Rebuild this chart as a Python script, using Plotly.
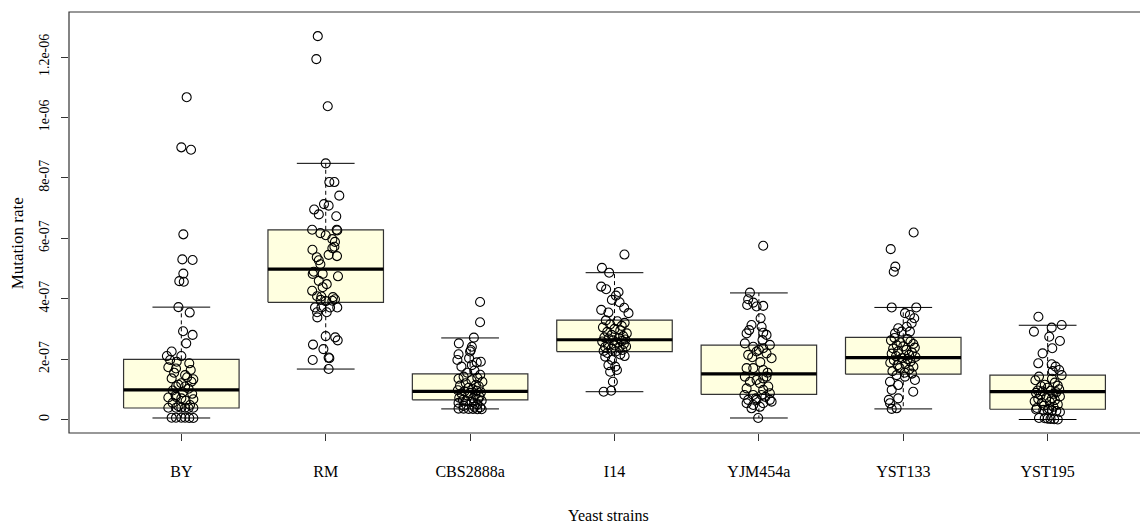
import plotly.graph_objects as go

# ---------------- data (mutation rate in units of 1e-07) ----------------
UNIT = 1e-7
strains = ["BY", "RM", "CBS2888a", "I14", "YJM454a", "YST133", "YST195"]

y_tick_vals = [0, 2e-07, 4e-07, 6e-07, 8e-07, 1e-06, 1.2e-06]
y_tick_text = ["0", "2e-07", "4e-07", "6e-07", "8e-07", "1e-06", "1.2e-06"]

# box statistics
whisker_low = [0.05, 1.67, 0.35, 0.92, 0.05, 0.35, 0.0]
q1 = [0.38, 3.88, 0.65, 2.25, 0.83, 1.50, 0.34]
median = [0.98, 4.98, 0.93, 2.64, 1.51, 2.05, 0.92]
q3 = [1.99, 6.28, 1.51, 3.29, 2.46, 2.72, 1.47]
whisker_high = [3.72, 8.48, 2.70, 4.86, 4.19, 3.71, 3.12]

# individual measurements and their horizontal jitter (category units)
by_vals = [10.67, 9.01, 8.93, 6.13, 5.30, 5.28, 4.83, 4.58, 4.56, 3.72, 3.54, 2.92, 2.80, 2.52,
           2.25, 2.10, 2.10, 1.97, 1.91, 1.86, 1.73, 1.69, 1.64, 1.47, 1.36, 1.33, 1.20, 1.09, 1.09,
           1.55, 1.40, 1.25, 1.15, 1.02, 0.96, 0.90, 0.85, 0.80,
           0.75, 0.73, 0.70, 0.67, 0.62, 0.55, 0.48, 0.44,
           0.39, 0.39, 0.39, 0.39, 0.39, 0.38,
           0.06, 0.06, 0.06, 0.06, 0.05, 0.05]
by_jit = [0.037, 0.0, 0.067, 0.014, 0.007, 0.078, 0.014, -0.014, 0.017, -0.02, 0.058, 0.012, 0.078, 0.034,
          -0.067, -0.10, 0.0, -0.078, -0.032, 0.055, -0.09, -0.037, 0.065, 0.026, -0.067, 0.083, 0.0, -0.037, 0.026,
          -0.05, 0.04, 0.07, -0.02, 0.05, -0.06, 0.01, 0.075, -0.04,
          -0.037, -0.09, 0.0, 0.083, 0.03, -0.06, 0.06, -0.02,
          -0.09, -0.037, 0.0, 0.026, 0.083, 0.05,
          -0.067, -0.037, 0.0, 0.026, 0.055, 0.083]

rm_vals = [12.69, 11.93, 10.37,
           8.48, 7.86, 7.86, 7.41, 7.13, 7.08, 6.95, 6.79, 6.73,
           6.28, 6.28, 6.26, 6.17, 6.10, 5.97, 5.88, 5.72, 5.67, 5.62,
           5.45, 5.41, 5.37, 5.27, 5.14, 4.89, 4.82, 4.82, 4.74, 4.59,
           4.48, 4.38, 4.26, 4.08, 4.07, 4.05, 3.96, 3.92, 3.93, 3.98,
           3.71, 3.71, 3.71, 3.71, 3.55, 3.55, 3.38,
           2.76, 2.72, 2.62, 2.48, 2.33, 1.97, 2.05, 2.03, 1.67]
rm_jit = [-0.055, -0.065, 0.014,
          0.0, 0.025, 0.06, 0.094, -0.012, 0.02, -0.08, -0.048, 0.073,
          -0.094, 0.076, 0.08, -0.037, 0.0, 0.046, 0.064, 0.06, 0.046, -0.092,
          0.02, 0.078, -0.062, -0.048, -0.037, -0.083, -0.021, -0.09, 0.085, -0.048,
          0.007, -0.021, -0.094, -0.06, -0.03, 0.05, -0.035, 0.0, 0.046, 0.064,
          -0.074, -0.03, 0.03, 0.08, -0.06, 0.007, -0.058,
          0.0, 0.066, 0.083, -0.088, -0.016, -0.09, 0.02, 0.025, 0.02]

cbs_vals = [3.89, 3.22, 2.71,
            2.52, 2.41, 2.30, 2.16, 2.25, 1.97, 2.03, 1.91, 1.89, 1.80,
            1.75, 1.62, 1.55, 1.48, 1.42, 1.38, 1.35, 1.30, 1.25, 1.20, 1.15, 1.12, 1.10, 1.05, 1.00,
            0.97, 0.95, 0.93, 0.90, 0.88, 0.86, 0.82, 0.78, 0.75, 0.72, 0.70, 0.68, 0.65,
            0.62, 0.60, 0.58, 0.55, 0.50, 0.45, 0.42, 0.40,
            0.36, 0.36, 0.35, 0.35, 0.34, 0.34]
cbs_jit = [0.069, 0.069, 0.026,
           -0.078, 0.012, 0.005, -0.08, 0.0, -0.088, -0.007, 0.074, 0.046, 0.012,
           -0.06, 0.03, -0.02, 0.07, -0.045, 0.05, -0.08, 0.01, 0.085, -0.03, 0.04, -0.07, 0.06, -0.01, 0.02,
           -0.085, 0.045, -0.04, 0.075, 0.0, -0.06, 0.035, -0.015, 0.065, -0.075, 0.02, 0.055, -0.05,
           0.08, -0.03, 0.01, -0.08, 0.05, -0.045, 0.03, 0.07,
           -0.08, -0.045, -0.01, 0.02, 0.05, 0.08]

i14_vals = [5.46, 5.02, 4.86, 4.40, 4.31, 4.22, 4.10, 3.96, 3.88, 3.70, 3.63, 3.54, 3.52,
            3.28, 3.25, 3.20, 3.15, 3.10, 3.05, 3.00, 2.95, 2.90, 2.85, 2.80, 2.76, 2.72, 2.70, 2.68, 2.65,
            2.62, 2.60, 2.58, 2.55, 2.50, 2.46, 2.45, 2.42, 2.40, 2.38, 2.34, 2.30, 2.27, 2.25,
            2.20, 2.15, 2.10, 2.08, 1.97, 1.80, 1.75, 1.64, 1.58, 1.25, 0.92, 0.95]
i14_jit = [0.069, -0.087, -0.037, -0.092, -0.058, 0.028, 0.010, -0.018, 0.035, 0.067, -0.092, -0.042, 0.097,
           -0.06, 0.02, 0.07, -0.03, 0.05, -0.08, 0.0, 0.04, -0.05, 0.085, -0.02, 0.06, -0.07, 0.03, -0.04, 0.075,
           -0.01, 0.05, -0.085, 0.02, 0.065, -0.045, 0.0, 0.08, -0.065, 0.035, -0.02, 0.055, -0.075, 0.01,
           -0.05, 0.04, 0.07, -0.064, -0.018, -0.042, 0.005, 0.017, -0.030, -0.011, -0.075, -0.023]

yjm_vals = [5.75, 4.20, 3.98, 3.87, 3.79, 3.74, 3.76,
            3.35, 3.13, 3.07, 2.96, 2.85, 2.87, 2.80, 2.63,
            2.52, 2.47, 2.41, 2.36, 2.30, 2.25, 2.14, 2.19, 2.03, 2.06,
            1.90, 1.70, 1.70, 1.64, 1.55, 1.42, 1.31, 1.42, 1.25, 1.36, 1.20,
            1.09, 1.03, 0.98, 0.87, 0.81, 0.81, 0.81, 0.75, 0.70, 0.65, 0.65, 0.65, 0.54, 0.48, 0.54, 0.37, 0.42,
            0.59, 0.05]
yjm_jit = [0.03, -0.062, -0.074, -0.039, -0.081, -0.016, 0.030,
           0.012, -0.051, 0.019, -0.067, -0.085, 0.030, 0.053, 0.025,
           -0.097, 0.076, -0.039, 0.030, 0.0, -0.016, -0.074, 0.053, 0.088, -0.046,
           0.01, -0.085, -0.039, 0.030, 0.06, -0.097, -0.016, 0.053, -0.062, 0.030, 0.007,
           0.065, -0.085, 0.030, 0.076, -0.1, -0.039, 0.019, 0.045, -0.02, -0.074, -0.016, 0.076, -0.085, -0.039,
           0.030, -0.051, 0.007, 0.088, -0.005]

y133_vals = [6.19, 5.64, 5.06, 4.89, 3.71, 3.71,
             3.52, 3.46, 3.35, 3.19, 3.07, 3.02, 2.91, 2.85, 2.91,
             2.70, 2.66, 2.62, 2.58, 2.55, 2.50, 2.46, 2.42, 2.38, 2.35, 2.30, 2.26, 2.22, 2.18, 2.14,
             2.10, 2.07, 2.03, 2.00, 1.96, 1.92, 1.88, 1.84, 1.80, 1.75, 1.70, 1.65, 1.60, 1.55, 1.52,
             1.47, 1.42, 1.25, 1.31, 1.14, 0.98, 0.92, 0.65, 0.70, 0.54, 0.37, 0.35]
y133_jit = [0.072, -0.087, -0.055, -0.066, -0.08, 0.09,
            0.012, 0.046, 0.076, 0.058, 0.024, -0.035, -0.011, -0.057, 0.046,
            -0.06, 0.03, -0.085, 0.05, -0.02, 0.07, -0.045, 0.0, 0.08, -0.07, 0.02, -0.035, 0.06, -0.08, 0.04,
            -0.05, 0.085, -0.01, 0.03, -0.065, 0.05, -0.09, 0.015, -0.04, 0.07, -0.025, 0.04, -0.075, 0.01, 0.06,
            -0.046, 0.012, -0.092, 0.081, -0.035, -0.08, 0.069, -0.1, -0.035, -0.092, -0.046, -0.08]

y195_vals = [3.40, 3.13, 3.04, 2.91, 2.74, 2.60, 2.36, 2.19, 1.86, 1.83, 1.75, 1.64, 1.60, 1.47,
             1.42, 1.35, 1.30, 1.22, 1.15, 1.12, 1.10, 1.05, 1.00, 0.96, 0.95, 0.93, 0.90, 0.88, 0.85,
             0.80, 0.76, 0.72, 0.70, 0.68, 0.64, 0.60, 0.58, 0.55, 0.50, 0.46, 0.42, 0.38, 0.35,
             0.33, 0.32, 0.31, 0.30, 0.28, 0.25,
             0.05, 0.04, 0.03, 0.02, 0.01, 0.0]
y195_jit = [-0.064, 0.097, 0.028, -0.095, 0.011, 0.085, 0.032, -0.035, -0.065, 0.028, 0.055, 0.08, 0.035, 0.097,
            -0.06, 0.03, -0.085, 0.05, -0.02, 0.07, -0.045, 0.0, 0.08, -0.07, 0.02, -0.035, 0.06, -0.08, 0.04,
            -0.05, 0.085, -0.01, 0.03, -0.065, 0.05, -0.09, 0.015, -0.04, 0.07, -0.025, 0.04, -0.075, 0.01,
            -0.08, -0.03, 0.0, 0.03, 0.06, 0.085,
            -0.06, -0.02, 0.0, 0.02, 0.045, 0.07]

point_values = [by_vals, rm_vals, cbs_vals, i14_vals, yjm_vals, y133_vals, y195_vals]
point_jitter = [by_jit, rm_jit, cbs_jit, i14_jit, yjm_jit, y133_jit, y195_jit]

# ---------------- styling ----------------
FONT = "Liberation Serif, Times New Roman, serif"
BOX_HALF = 0.4
CAP_HALF = 0.2
BOX_FILL = "#FFFFE0"
EDGE = "#333333"

fig = go.Figure()

# boxes
for i, name in enumerate(strains):
    x = i + 1
    fig.add_trace(go.Scatter(
        x=[x - BOX_HALF, x + BOX_HALF, x + BOX_HALF, x - BOX_HALF, x - BOX_HALF],
        y=[q1[i] * UNIT, q1[i] * UNIT, q3[i] * UNIT, q3[i] * UNIT, q1[i] * UNIT],
        mode="lines", fill="toself", fillcolor=BOX_FILL,
        line=dict(color=EDGE, width=1.2), hoverinfo="skip"))

# whiskers (dashed)
wx, wy = [], []
for i in range(len(strains)):
    x = i + 1
    wx += [x, x, None, x, x, None]
    wy += [q3[i] * UNIT, whisker_high[i] * UNIT, None, q1[i] * UNIT, whisker_low[i] * UNIT, None]
fig.add_trace(go.Scatter(x=wx, y=wy, mode="lines",
                         line=dict(color="black", width=1, dash="4px,3px"), hoverinfo="skip"))

# caps
cx, cy = [], []
for i in range(len(strains)):
    x = i + 1
    for v in (whisker_high[i], whisker_low[i]):
        cx += [x - CAP_HALF, x + CAP_HALF, None]
        cy += [v * UNIT, v * UNIT, None]
fig.add_trace(go.Scatter(x=cx, y=cy, mode="lines", line=dict(color="black", width=1), hoverinfo="skip"))

# medians
mx, my = [], []
for i in range(len(strains)):
    x = i + 1
    mx += [x - BOX_HALF, x + BOX_HALF, None]
    my += [median[i] * UNIT, median[i] * UNIT, None]
fig.add_trace(go.Scatter(x=mx, y=my, mode="lines", line=dict(color="black", width=3.2), hoverinfo="skip"))

# jittered points
for i, name in enumerate(strains):
    xs, ys = [], []
    for v, j in zip(point_values[i], point_jitter[i]):
        xs.append(i + 1 + j)
        ys.append(v * UNIT)
    fig.add_trace(go.Scatter(x=xs, y=ys, mode="markers", name=name,
                             marker=dict(symbol="circle-open", size=9, color="black",
                                         line=dict(width=1.1, color="black"))))

# the page body has an 8px margin, so the figure is sized to fit the window exactly
fig.update_layout(
    width=1140, height=517, autosize=False,
    margin=dict(l=61, r=0, t=4, b=92),
    paper_bgcolor="white", plot_bgcolor="white",
    showlegend=False,
    font=dict(family=FONT, color="black"),
    xaxis=dict(range=[0.222, 7.695], tickmode="array", tickvals=list(range(1, len(strains) + 1)),
               ticktext=strains, ticks="outside", ticklen=7, tickcolor=EDGE, tickwidth=1,
               showgrid=False, zeroline=False, showline=False,
               tickfont=dict(family=FONT, size=16, color="black"), ticklabelstandoff=17),
    yaxis=dict(range=[-0.447e-7, 13.49e-7], tickmode="array", tickvals=y_tick_vals,
               ticktext=y_tick_text, tickangle=-90, ticks="outside", ticklen=7, tickcolor=EDGE,
               tickwidth=1, showgrid=False, zeroline=False, showline=False,
               tickfont=dict(family=FONT, size=14, color="black"), ticklabelstandoff=6),
    shapes=[dict(type="rect", xref="paper", yref="paper", x0=0, x1=1.05, y0=0, y1=1,
                 line=dict(color=EDGE, width=1.2), fillcolor="rgba(0,0,0,0)", layer="above")],
    annotations=[
        dict(text="Yeast strains", xref="paper", yref="paper", x=0.5, y=-0.195,
             xanchor="center", yanchor="middle", showarrow=False,
             font=dict(family=FONT, size=16, color="black")),
        dict(text="Mutation rate", xref="paper", yref="paper", x=-0.048, y=0.451,
             xanchor="center", yanchor="middle", textangle=-90, showarrow=False,
             font=dict(family=FONT, size=17, color="black")),
    ],
)

fig.write_html("out.html")
